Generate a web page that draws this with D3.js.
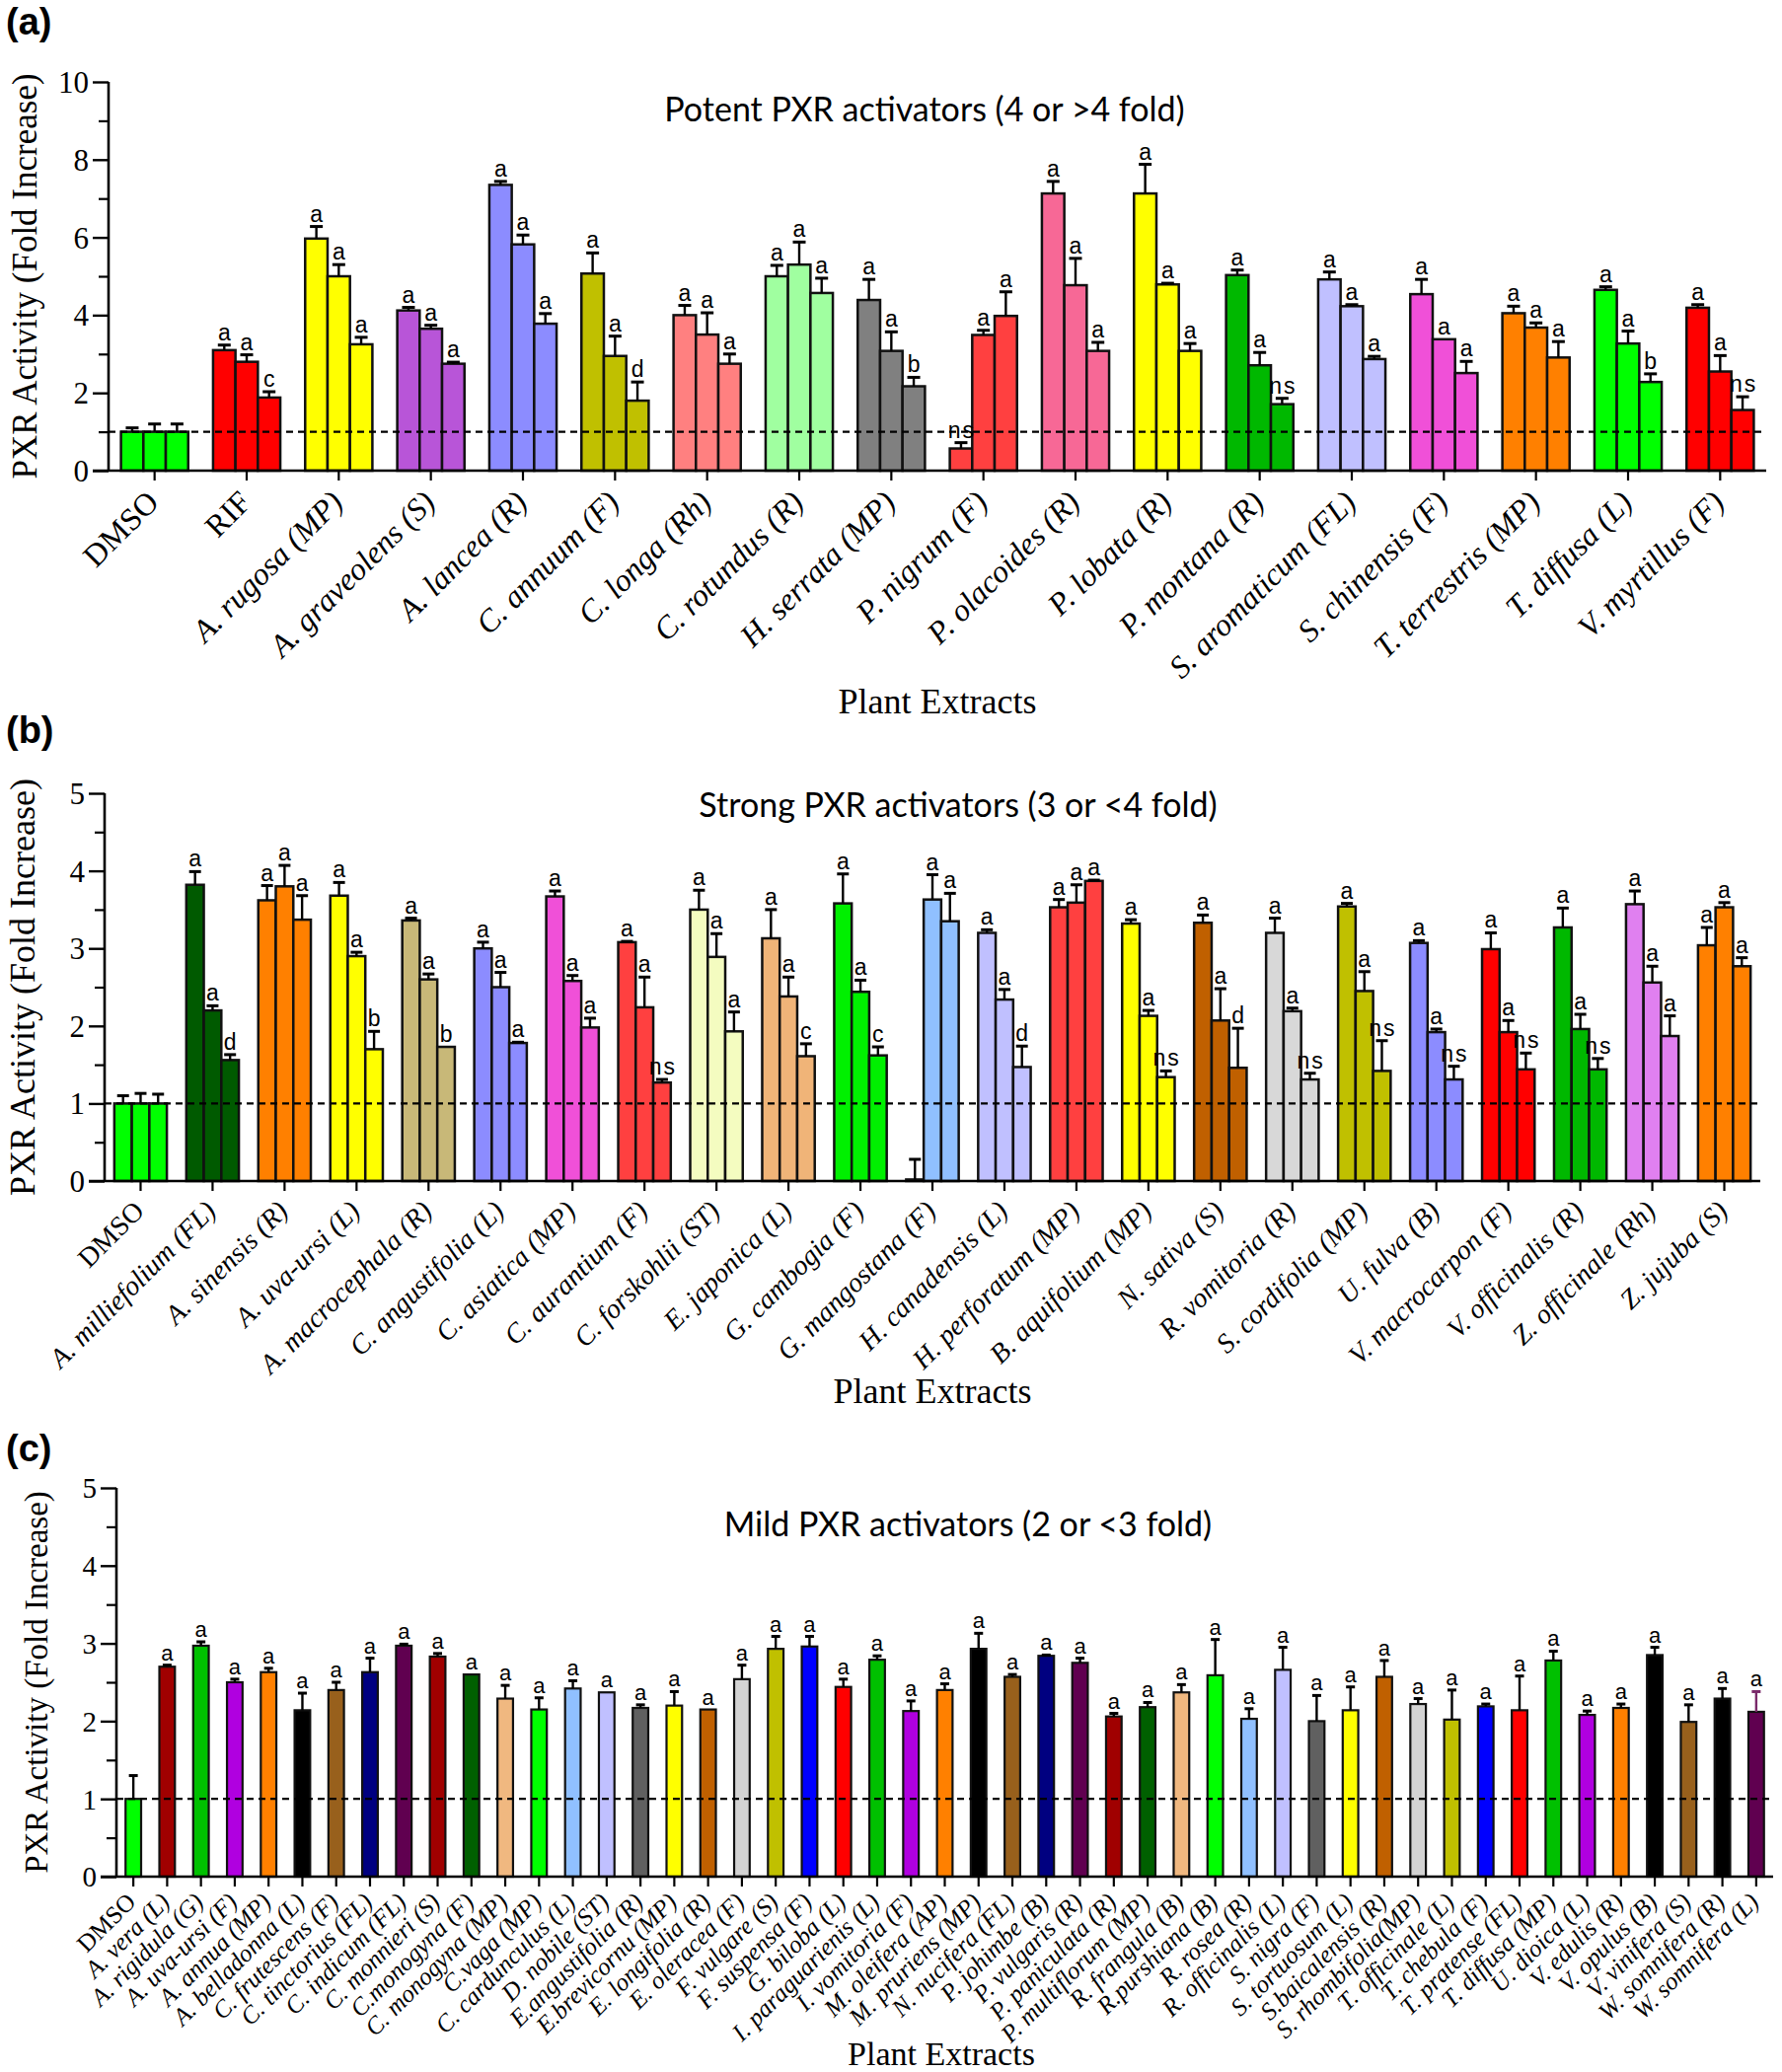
<!DOCTYPE html>
<html>
<head>
<meta charset="utf-8">
<script src="https://cdn.jsdelivr.net/npm/d3@7"></script>
<style>
  html, body { margin: 0; padding: 0; background: #fff; }
  svg { display: block; }
</style>
</head>
<body>
<svg id="chart" width="1806" height="2100"></svg>
<script>
// ---------------- Panel (a) data ----------------
const catsA = ["DMSO","RIF","A. rugosa (MP)","A. graveolens (S)","A. lancea (R)","C. annuum (F)","C. longa (Rh)","C. rotundus (R)","H. serrata (MP)","P. nigrum (F)","P. olacoides (R)","P. lobata (R)","P. montana (R)","S. aromaticum (FL)","S. chinensis (F)","T. terrestris (MP)","T. diffusa (L)","V. myrtillus (F)"];
const colorsA = ["#00ff00","#ff0000","#ffff00","#b855d8","#8c8cff","#c0c000","#ff8080","#a0ffa0","#808080","#ff4040","#f76896","#ffff00","#00b800","#c0c0ff","#f050d8","#ff8000","#00ff00","#ff0000"];
const meansA = [[1,1,1],[3.1,2.8,1.88],[5.97,5.0,3.25],[4.12,3.65,2.75],[7.35,5.82,3.78],[5.07,2.95,1.8],[4.0,3.5,2.75],[5.0,5.3,4.57],[4.39,3.08,2.17],[0.57,3.49,3.98],[7.13,4.77,3.08],[7.13,4.79,3.08],[5.03,2.71,1.71],[4.92,4.23,2.87],[4.54,3.38,2.51],[4.05,3.68,2.91],[4.65,3.27,2.28],[4.19,2.55,1.56]];
const sdsA = [[0.1,0.2,0.2],[0.13,0.18,0.15],[0.31,0.3,0.18],[0.08,0.09,0.04],[0.09,0.24,0.26],[0.53,0.51,0.48],[0.25,0.56,0.25],[0.28,0.58,0.38],[0.53,0.49,0.23],[0.15,0.12,0.62],[0.31,0.69,0.22],[0.75,0.03,0.19],[0.13,0.33,0.15],[0.19,0.04,0.07],[0.38,0,0.3],[0.18,0.12,0.41],[0.08,0.32,0.21],[0.08,0.41,0.34]];
const lettersA = [["","",""],["a","a","c"],["a","a","a"],["a","a","a"],["a","a","a"],["a","a","d"],["a","a","a"],["a","a","a"],["a","a","b"],["ns","a","a"],["a","a","a"],["a","a","a"],["a","a","ns"],["a","a","a"],["a","a","a"],["a","a","a"],["a","a","b"],["a","a","ns"]];
const yTicksA = [0,2,4,6,8,10];
const yMinorA = [1,3,5,7,9];

// ---------------- Panel (b) data ----------------
const catsB = ["DMSO","A. milliefolium (FL)","A. sinensis (R)","A. uva-ursi (L)","A. macrocephala (R)","C. angustifolia (L)","C. asiatica (MP)","C. aurantium (F)","C. forskohlii (ST)","E. japonica (L)","G. cambogia (F)","G. mangostana (F)","H. canadensis (L)","H. perforatum (MP)","B. aquifolium (MP)","N. sativa (S)","R. vomitoria (R)","S. cordifolia (MP)","U. fulva (B)","V. macrocarpon (F)","V. officinalis (R)","Z. officinale (Rh)","Z. jujuba (S)"];
const colorsB = ["#00ff00","#005a00","#ff8000","#ffff00","#c8b878","#8c8cff","#f050d8","#ff4040","#f4fcc0","#f0b478","#00f000","#90c0ff","#c0c0ff","#ff4040","#ffff00","#c06000","#d8d8d8","#c0c000","#8c8cff","#ff0000","#00b800","#e080f0","#ff8000"];
const meansB = [[1,1,1],[3.82,2.2,1.56],[3.62,3.8,3.37],[3.68,2.9,1.7],[3.36,2.6,1.73],[3.0,2.5,1.78],[3.67,2.58,1.98],[3.08,2.24,1.27],[3.5,2.89,1.93],[3.13,2.38,1.61],[3.58,2.44,1.62],[0.02,3.63,3.35],[3.2,2.34,1.47],[3.53,3.59,3.87],[3.32,2.13,1.34],[3.33,2.07,1.46],[3.2,2.19,1.31],[3.54,2.45,1.42],[3.07,1.92,1.31],[2.99,1.92,1.44],[3.27,1.96,1.44],[3.57,2.56,1.87],[3.04,3.53,2.77]];
const sdsB = [[0.1,0.13,0.12],[0.17,0.06,0.07],[0.19,0.27,0.31],[0.17,0.05,0.23],[0.03,0.07,0],[0.08,0.19,0.01],[0.07,0.07,0.12],[0.01,0.39,0.04],[0.25,0.3,0.25],[0.37,0.25,0.16],[0.38,0.15,0.11],[0.26,0.32,0.36],[0.04,0.13,0.27],[0.1,0.23,0.01],[0.05,0.07,0.08],[0.1,0.41,0.51],[0.19,0.04,0.08],[0.04,0.25,0.39],[0.03,0.04,0.17],[0.21,0.15,0.21],[0.25,0.19,0.14],[0.17,0.21,0.26],[0.23,0.06,0.11]];
const lettersB = [["","",""],["a","a","d"],["a","a","a"],["a","a","b"],["a","a","b"],["a","a","a"],["a","a","a"],["a","a","ns"],["a","a","a"],["a","a","c"],["a","a","c"],["","a","a"],["a","a","d"],["a","a","a"],["a","a","ns"],["a","a","d"],["a","a","ns"],["a","a","ns"],["a","a","ns"],["a","a","ns"],["a","a","ns"],["a","a","a"],["a","a","a"]];
const yTicksB = [0,1,2,3,4,5];
const yMinorB = [0.5,1.5,2.5,3.5,4.5];

// ---------------- Panel (c) data ----------------
const catsC = ["DMSO","A. vera (L)","A. rigidula (G)","A. uva-ursi (F)","A. annua (MP)","A. belladonna (L)","C. frutescens (F)","C. tinctorius (FL)","C. indicum (FL)","C. monnieri (S)","C.monogyna (F)","C. monogyna (MP)","C.vaga (MP)","C. cardunculus (L)","D. nobile (ST)","E.angustifolia (R)","E.brevicornu (MP)","E. longifolia (R)","E. oleracea (F)","F. vulgare (S)","F. suspensa (F)","G. biloba (L)","I. paraguarienis (L)","I. vomitoria (F)","M. oleifera (AP)","M. pruriens (MP)","N. nucifera (FL)","P. johimbe (B)","P. vulgaris (R)","P. paniculata (R)","P. multiflorum (MP)","R. frangula (B)","R.purshiana (B)","R. rosea (R)","R. officinalis (L)","S. nigra (F)","S. tortuosum (L)","S.baicalensis (R)","S. rhombifolia(MP)","T. officinale (L)","T. chebula (F)","T. pratense (FL)","T. diffusa (MP)","U. dioica (L)","V. edulis (R)","V. opulus (B)","V. vinifera (S)","W. somnifera (R)","W. somnifera (L)"];
const colorsC = ["#00ff00","#a00000","#00c000","#b000e0","#ff8000","#000000","#98601c","#000080","#600050","#a00000","#006000","#f0b880","#00ff00","#90c0ff","#c0c0ff","#606060","#ffff00","#c06000","#d3d3d3","#c0c000","#0000ff","#ff0000","#00c000","#b000e0","#ff8000","#000000","#98601c","#000080","#600050","#a00000","#006000","#f0b880","#00ff00","#90c0ff","#c0c0ff","#606060","#ffff00","#c06000","#d3d3d3","#c0c000","#0000ff","#ff0000","#00c000","#b000e0","#ff8000","#000000","#98601c","#000000","#600050"];
const meansC = [1.0,2.7,2.97,2.5,2.63,2.14,2.4,2.63,2.97,2.83,2.6,2.29,2.15,2.42,2.37,2.17,2.2,2.15,2.54,2.93,2.96,2.44,2.79,2.13,2.4,2.93,2.57,2.84,2.75,2.06,2.18,2.37,2.59,2.03,2.66,2.0,2.14,2.57,2.22,2.02,2.19,2.14,2.78,2.08,2.17,2.85,1.99,2.29,2.12];
const sdsC = [0.3,0.02,0.05,0.04,0.05,0.22,0.1,0.18,0.02,0.04,0,0.17,0.15,0.1,0,0.04,0.18,0,0.18,0.16,0.13,0.1,0.05,0.13,0.08,0.2,0.03,0.01,0.06,0.04,0.06,0.1,0.46,0.13,0.29,0.33,0.3,0.21,0.07,0.38,0.03,0.44,0.12,0.05,0.05,0.1,0.22,0.13,0.26];
const lettersC = ["","a","a","a","a","a","a","a","a","a","a","a","a","a","a","a","a","a","a","a","a","a","a","a","a","a","a","a","a","a","a","a","a","a","a","a","a","a","a","a","a","a","a","a","a","a","a","a","a"];
const yTicksC = [0,1,2,3,4,5];
const yMinorC = [0.5,1.5,2.5,3.5,4.5];

const titles = ["Potent PXR activators (4 or >4 fold)","Strong PXR activators (3 or <4 fold)","Mild PXR activators (2 or <3 fold)"];
const panelTags = ["(a)","(b)","(c)"];
const yTitle = "PXR Activity (Fold Increase)";
const xTitle = "Plant Extracts";
const plainCats = ["DMSO","RIF"];

// ---------------- drawing ----------------
const SERIF = "'Liberation Serif','Times New Roman',serif";
const SANS = "'Liberation Sans',Arial,sans-serif";
const svg = d3.select("#chart");

function panel(o) {
  const g = svg.append("g");
  const x = d3.scaleBand().domain(o.cats).range([o.x0, o.x1])
    .paddingInner(o.pi).paddingOuter(o.pi / 2);
  const y = d3.scaleLinear().domain([0, o.ymax]).range([o.y0, o.yTop]);
  const k = o.means[0].length;
  const xs = d3.scaleBand().domain(d3.range(k)).range([0, x.bandwidth()]);
  const bw = xs.bandwidth();

  const rows = [];
  o.cats.forEach((c, i) => o.means[i].forEach((m, j) => rows.push({
    c, i, j, m, sd: o.sds[i][j], lab: o.letters[i][j], col: o.colors[i]
  })));
  const cx = d => x(d.c) + xs(d.j) + bw / 2;

  // bars
  g.selectAll("rect.bar").data(rows).join("rect").attr("class", "bar")
    .attr("x", d => x(d.c) + xs(d.j))
    .attr("y", d => y(d.m))
    .attr("width", bw)
    .attr("height", d => y(0) - y(d.m))
    .attr("fill", d => d.col)
    .attr("stroke", "#111").attr("stroke-width", o.barStroke);

  // dashed reference line at 1
  g.append("line").attr("x1", o.x0).attr("x2", o.x1)
    .attr("y1", y(1)).attr("y2", y(1))
    .attr("stroke", "#000").attr("stroke-width", 2.2).attr("stroke-dasharray", "7,5");

  // error bars
  const ec = d => o.errColor ? o.errColor(d) : "#000";
  const eb = g.selectAll("g.eb").data(rows).join("g").attr("class", "eb");
  eb.append("line")
    .attr("x1", cx).attr("x2", cx)
    .attr("y1", d => y(d.m)).attr("y2", d => y(d.m + d.sd))
    .attr("stroke", ec).attr("stroke-width", 2.4);
  eb.filter(d => d.sd > 0).append("line")
    .attr("x1", d => cx(d) - o.cap / 2).attr("x2", d => cx(d) + o.cap / 2)
    .attr("y1", d => y(d.m + d.sd)).attr("y2", d => y(d.m + d.sd))
    .attr("stroke", ec).attr("stroke-width", 3);

  // significance letters
  g.selectAll("text.sig").data(rows.filter(d => d.lab)).join("text").attr("class", "sig")
    .attr("x", d => cx(d) + (d.lab === "ns" ? 1 : 0))
    .attr("y", d => y(d.m + d.sd) - 5)
    .attr("text-anchor", "middle")
    .style("font-family", SANS).style("font-size", o.sigSize + "px")
    .style("letter-spacing", d => d.lab === "ns" ? "2px" : "0px")
    .text(d => d.lab);

  // y axis (major + minor)
  const ya = g.append("g").attr("transform", `translate(${o.x0},0)`)
    .call(d3.axisLeft(y).tickValues(o.yTicks).tickSize(16).tickPadding(4).tickFormat(d3.format("d")));
  ya.select(".domain").attr("stroke-width", 2.6).attr("d", `M0,${y(0)}V${y(o.ymax)}`);
  ya.selectAll(".tick line").attr("stroke-width", 2.4);
  ya.selectAll("text").style("font-family", SERIF).style("font-size", o.yTickSize + "px").attr("dy", "0.34em");
  const ym = g.append("g").attr("transform", `translate(${o.x0},0)`)
    .call(d3.axisLeft(y).tickValues(o.yMinor).tickSize(10).tickFormat(""));
  ym.select(".domain").remove();
  ym.selectAll(".tick line").attr("stroke-width", 2.2);

  // x axis
  const xa = g.append("g").attr("transform", `translate(0,${o.y0})`)
    .call(d3.axisBottom(x).tickSize(10).tickSizeOuter(0));
  xa.select(".domain").attr("stroke-width", 2.6).attr("d", `M${o.x0 - 16},0H${o.x1}`);
  xa.selectAll(".tick line").attr("stroke-width", 2.2);
  xa.selectAll(".tick text")
    .attr("x", 0).attr("y", 0).attr("dy", 0)
    .attr("transform", `translate(${o.lx},${o.ly}) rotate(-45)`)
    .attr("text-anchor", "end")
    .style("font-family", SERIF).style("font-size", o.xLabSize + "px")
    .style("font-style", d => plainCats.includes(d) ? "normal" : "italic");

  // titles
  g.append("text").attr("x", o.titleX).attr("y", o.titleY).attr("text-anchor", "middle")
    .style("font-family", "Lato, 'Open Sans', sans-serif").style("font-size", o.titleSize + "px")
    .text(o.title);
  g.append("text").attr("transform", `translate(${o.yTitleX},${(o.y0 + o.yTop) / 2}) rotate(-90)`)
    .attr("text-anchor", "middle").attr("dy", "0.35em")
    .style("font-family", SERIF).style("font-size", o.yTitleSize + "px").text(yTitle);
  g.append("text").attr("x", o.xTitleX).attr("y", o.xTitleY).attr("text-anchor", "middle")
    .style("font-family", SERIF).style("font-size", o.xTitleSize + "px").text(xTitle);
  g.append("text").attr("x", 6).attr("y", o.tagY)
    .style("font-family", SANS).style("font-weight", "bold").style("font-size", "38px").text(o.tag);
}

panel({
  cats: catsA, colors: colorsA, means: meansA, sds: sdsA, letters: lettersA,
  yTicks: yTicksA, yMinor: yMinorA, ymax: 10,
  x0: 110, x1: 1790, y0: 477, yTop: 83, pi: 0.27, cap: 13, barStroke: 2.5,
  sigSize: 23, yTickSize: 31, xLabSize: 32, lx: 6, ly: 34,
  title: titles[0], titleX: 937, titleY: 123, titleSize: 34,
  yTitleX: 25, yTitleSize: 35, xTitleX: 950, xTitleY: 723, xTitleSize: 36,
  tag: panelTags[0], tagY: 35
});

panel({
  cats: catsB, colors: colorsB, means: meansB, sds: sdsB, letters: lettersB,
  yTicks: yTicksB, yMinor: yMinorB, ymax: 5,
  x0: 106, x1: 1784, y0: 1197, yTop: 804, pi: 0.27, cap: 12, barStroke: 2.5,
  sigSize: 23, yTickSize: 31, xLabSize: 28, lx: 5, ly: 32,
  title: titles[1], titleX: 971, titleY: 828, titleSize: 34,
  yTitleX: 22, yTitleSize: 36, xTitleX: 945, xTitleY: 1422, xTitleSize: 36,
  tag: panelTags[1], tagY: 753
});

panel({
  cats: catsC, colors: colorsC, means: meansC.map(v => [v]), sds: sdsC.map(v => [v]), letters: lettersC.map(v => [v]),
  yTicks: yTicksC, yMinor: yMinorC, ymax: 5,
  x0: 118, x1: 1797, y0: 1902, yTop: 1508, pi: 0.54, cap: 9, barStroke: 2.2,
  sigSize: 22, yTickSize: 29, xLabSize: 25, lx: 4, ly: 27,
  title: titles[2], titleX: 981, titleY: 1557, titleSize: 34,
  yTitleX: 36, yTitleSize: 33, xTitleX: 954, xTitleY: 2093, xTitleSize: 34,
  errColor: d => d.i === catsC.length - 1 ? "#7a2a6a" : "#000",
  tag: panelTags[2], tagY: 1481
});
</script>
</body>
</html>
